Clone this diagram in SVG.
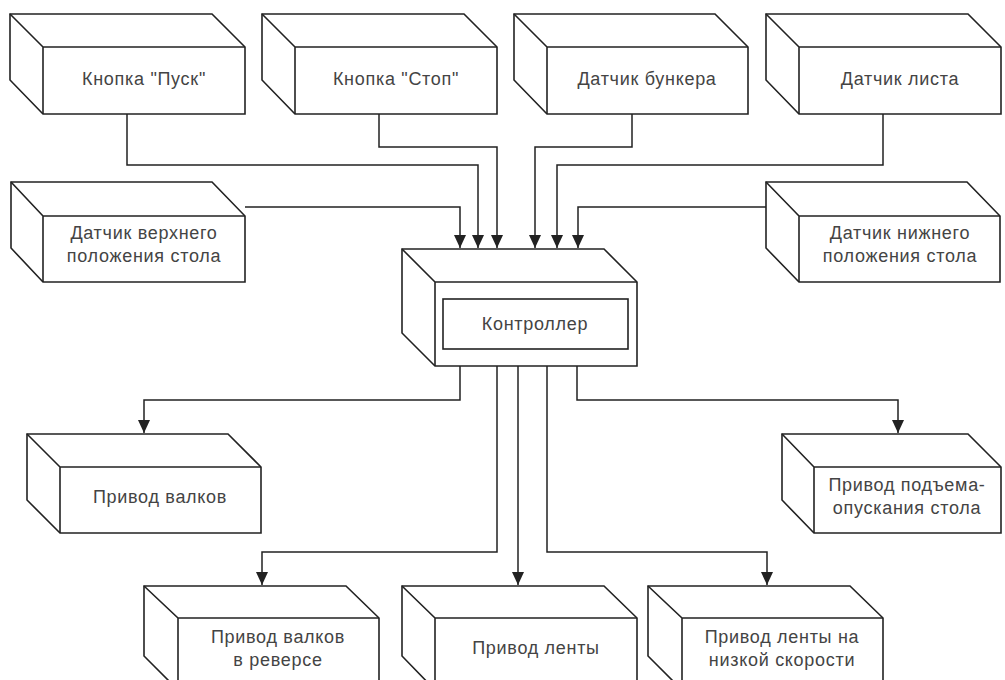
<svg xmlns="http://www.w3.org/2000/svg" width="1005" height="680" viewBox="0 0 1005 680">
<style>
.box{fill:#fff;stroke:#222;stroke-width:1.6;stroke-linejoin:miter}
.edge{fill:none;stroke:#222;stroke-width:1.6}
.conn{fill:none;stroke:#222;stroke-width:1.5}
.lbl{font-family:"Liberation Sans",Arial,sans-serif;font-size:18px;letter-spacing:0.7px;fill:#444;text-anchor:middle}
</style>
<defs>
<marker id="arr" markerUnits="userSpaceOnUse" markerWidth="14" markerHeight="12" refX="13" refY="6" orient="auto">
<path d="M0,0 L13,6 L0,12 Z" fill="#222"/>
</marker>
</defs>
<rect width="1005" height="680" fill="#fff"/>
<g id="connectors">
<path class="conn" d="M127,114 V165 H478 V248" marker-end="url(#arr)"/>
<path class="conn" d="M379,114 V147 H497 V248" marker-end="url(#arr)"/>
<path class="conn" d="M632,114 V147 H535 V248" marker-end="url(#arr)"/>
<path class="conn" d="M883,114 V165 H557 V248" marker-end="url(#arr)"/>
<path class="conn" d="M245,207 H460 V248" marker-end="url(#arr)"/>
<path class="conn" d="M766,207 H578 V248" marker-end="url(#arr)"/>
<path class="conn" d="M460,366 V400 H144 V433" marker-end="url(#arr)"/>
<path class="conn" d="M497,366 V552 H262 V585" marker-end="url(#arr)"/>
<path class="conn" d="M518,366 V585" marker-end="url(#arr)"/>
<path class="conn" d="M547,366 V552 H767 V585" marker-end="url(#arr)"/>
<path class="conn" d="M577,366 V400 H898 V433" marker-end="url(#arr)"/>
</g>
<g id="n-pusk">
<path class="box" d="M10,14 H212 L245,47 V114 H43 L10,80 Z"/>
<path class="edge" d="M10,14 L43,47 H245 M43,47 V114"/>
<text class="lbl" x="144" y="85">Кнопка "Пуск"</text>
</g>
<g id="n-stop">
<path class="box" d="M262,14 H464 L497,47 V114 H295 L262,80 Z"/>
<path class="edge" d="M262,14 L295,47 H497 M295,47 V114"/>
<text class="lbl" x="396" y="85">Кнопка "Стоп"</text>
</g>
<g id="n-bunker">
<path class="box" d="M514,14 H715 L748,47 V114 H547 L514,80 Z"/>
<path class="edge" d="M514,14 L547,47 H748 M547,47 V114"/>
<text class="lbl" x="647" y="85">Датчик бункера</text>
</g>
<g id="n-list">
<path class="box" d="M766,14 H968 L1001,47 V114 H799 L766,80 Z"/>
<path class="edge" d="M766,14 L799,47 H1001 M799,47 V114"/>
<text class="lbl" x="900" y="85">Датчик листа</text>
</g>
<g id="n-upper">
<path class="box" d="M11,182 H212 L245,216 V282 H43 L11,248 Z"/>
<path class="edge" d="M11,182 L43,216 H245 M43,216 V282"/>
<text class="lbl" x="144" y="239">Датчик верхнего</text>
<text class="lbl" x="144" y="262">положения стола</text>
</g>
<g id="n-lower">
<path class="box" d="M766,182 H967 L1000,216 V282 H799 L766,248 Z"/>
<path class="edge" d="M766,182 L799,216 H1000 M799,216 V282"/>
<text class="lbl" x="900" y="239">Датчик нижнего</text>
<text class="lbl" x="900" y="262">положения стола</text>
</g>
<g id="n-controller">
<path class="box" d="M402,249 H604 L637,282 V366 H435 L402,333 Z"/>
<path class="edge" d="M402,249 L435,282 H637 M435,282 V366"/>
<rect class="box" x="443" y="299" width="185" height="50"/>
<text class="lbl" x="535" y="330">Контроллер</text>
</g>
<g id="n-valki">
<path class="box" d="M27,434 H228 L261,467 V533 H60 L27,500 Z"/>
<path class="edge" d="M27,434 L60,467 H261 M60,467 V533"/>
<text class="lbl" x="160" y="503">Привод валков</text>
</g>
<g id="n-podem">
<path class="box" d="M782,434 H968 L1001,467 V533 H814 L782,500 Z"/>
<path class="edge" d="M782,434 L814,467 H1001 M814,467 V533"/>
<text class="lbl" x="907" y="491">Привод подъема-</text>
<text class="lbl" x="907" y="514">опускания стола</text>
</g>
<g id="n-revers">
<path class="box" d="M144,586 H346 L379,618 V690 H178 L144,656 Z"/>
<path class="edge" d="M144,586 L178,618 H379 M178,618 V690"/>
<text class="lbl" x="278" y="643">Привод валков</text>
<text class="lbl" x="278" y="666">в реверсе</text>
</g>
<g id="n-lenta">
<path class="box" d="M402,586 H604 L637,618 V690 H435 L402,656 Z"/>
<path class="edge" d="M402,586 L435,618 H637 M435,618 V690"/>
<text class="lbl" x="536" y="654">Привод ленты</text>
</g>
<g id="n-lenta-low">
<path class="box" d="M648,586 H850 L883,618 V690 H682 L648,656 Z"/>
<path class="edge" d="M648,586 L682,618 H883 M682,618 V690"/>
<text class="lbl" x="782" y="643">Привод ленты на</text>
<text class="lbl" x="782" y="666">низкой скорости</text>
</g>
</svg>
